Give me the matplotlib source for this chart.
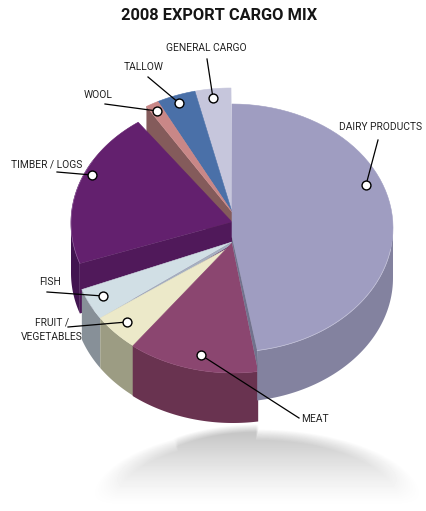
import numpy as np
import matplotlib
matplotlib.use("Agg")
import matplotlib.pyplot as plt
from matplotlib.patches import Polygon

plt.rcParams['font.family'] = ['Roboto', 'DejaVu Sans']

# share of exports, percent, clockwise from 12 o'clock
cargo = ['DAIRY PRODUCTS', 'MEAT', 'FRUIT /\nVEGETABLES', 'FISH', 'TIMBER / LOGS', 'WOOL', 'TALLOW', 'GENERAL CARGO']
share = [47.5, 13.2, 4.9, 4.1, 20.4, 1.3, 3.9, 3.6]
# there is a small hole in the ring before wool, same as the original graphic
hole_before = {'WOOL': 100 - sum(share)}

top_col = ['#9f9dc1', '#8b4670', '#ece9c9', '#d1dfe5', '#63206e', '#c98787', '#4a70a8', '#c6c6dc']
wall_col = ['#83829f', '#693350', '#9c9c83', '#879098', '#421550', None, None, None]
cut_col = ['#71728d', None, '#b9b79a', '#a6b0c0', '#50195a', '#845b5b', None, None]

# ellipse centre and apex of each slice in picture pixels (exploded by hand)
centre = [(232, 228), (233, 249), (234, 249), (234, 249), (232, 223), (231, 212), (231, 212), (231, 212)]
apex = [(232, 237), (232, 243), (232, 246), (232, 242), (232, 222), (232, 212), (232, 212), (232, 212)]
rx, ry, depth = 161, 124, 50

# dot, elbow, label anchor
callouts = {
    'DAIRY PRODUCTS': ((366, 185), (378, 140), (381, 127)),
    'MEAT': ((201, 355), (299, 418), (315, 419)),
    'FRUIT /\nVEGETABLES': ((127, 322), (68, 327), (52, 330)),
    'FISH': ((103, 296), (47, 292), (50, 282)),
    'TIMBER / LOGS': ((92, 175), (57, 172), (47, 164)),
    'WOOL': ((157, 111), (105, 104), (98, 95)),
    'TALLOW': ((179, 103), (148, 77), (144, 67)),
    'GENERAL CARGO': ((213, 98), (207, 59), (206, 48)),
}


def arc(i, a0, a1, dy=0):
    t = np.radians(np.linspace(a0, a1, 60))
    cx, cy = centre[i]
    return np.column_stack([cx + rx * np.sin(t), cy - ry * np.cos(t) + dy])


fig = plt.figure(figsize=(4.26, 5.11), dpi=100)
ax = fig.add_axes([0, 0, 1, 1])
ax.set_xlim(0, 426)
ax.set_ylim(511, 0)
ax.axis('off')

# soft shadow under the pie: a wide ellipse plus a raised part left of the meat edge
xx, yy = np.meshgrid(np.arange(426) + 0.5, np.arange(511) + 0.5)
d = np.sqrt(((xx - 257) / 168.0) ** 2 + ((yy - 505) / 76.0) ** 2)
mask = np.clip((1 - d) / 0.15, 0, 1)
d2 = np.sqrt(((xx - 258) / 150.0) ** 2 + ((yy - 505) / 81.0) ** 2)
mask2 = np.clip((1 - d2) / 0.1, 0, 1) * np.clip((259 - xx) / 3.0, 0, 1) * np.clip((xx - 170) / 8.0, 0, 1)
fade = np.maximum(mask, mask2) * np.clip((507 - yy) / 72.0, 0, 1) ** 1.3
shade = 1 - 0.22 * fade
ax.imshow(shade, cmap='gray', vmin=0, vmax=1, extent=(0, 426, 511, 0), zorder=0, aspect='auto')

# slice angles from the shares
starts, ends = [], []
a = 0.0
for name, v in zip(cargo, share):
    a += hole_before.get(name, 0) * 3.6
    starts.append(a)
    a += v * 3.6
    ends.append(a)

z = 1


def poly(pts, col, edge='none', lw=0.0):
    global z
    ax.add_patch(Polygon(pts, closed=True, facecolor=col, edgecolor=edge, linewidth=lw, zorder=z))
    z += 1


def draw_slice(i):
    a0, a1 = starts[i], ends[i]
    # outer wall, only the part facing us
    if wall_col[i] is not None:
        w0, w1 = max(a0, 90), min(a1, 270)
        if w1 > w0:
            poly(np.vstack([arc(i, w0, w1), arc(i, w0, w1, depth)[::-1]]), wall_col[i])
    # top face
    poly(np.vstack([[apex[i]], arc(i, a0, a1)]), top_col[i], edge=top_col[i], lw=0.4)


# wool cut face sits behind everything at the back
p = arc(5, starts[5], starts[5] + 0.01)[0]
poly([apex[5], p, (p[0], p[1] + depth), (apex[5][0], apex[5][1] + depth)], cut_col[5])
for i in [7, 6, 5]:
    draw_slice(i)

# timber, cut face along its lower edge
i = 4
draw_slice(i)
p = arc(i, starts[i], starts[i] + 0.01)[0]
poly([apex[i], p, (p[0], p[1] + depth), (apex[i][0], apex[i][1] + depth)], cut_col[i])
ax.plot(*arc(i, 251, 300).T, color='#8a5a96', lw=0.5, zorder=z)
z += 1

# fish and fruit, each with a thin edge strip on its clockwise-start side
for i, drop in [(3, 4), (2, 4)]:
    draw_slice(i)
    p = arc(i, starts[i], starts[i] + 0.01)[0]
    poly([apex[i], p, (p[0] + 1, p[1] + drop), (apex[i][0] + 1, apex[i][1] + 2)], cut_col[i])

# meat
draw_slice(1)

# dark strip next to dairy, then dairy
i = 0
p = arc(i, ends[i], ends[i] + 0.01)[0]
m = arc(1, starts[1], starts[1] + 0.01)[0]
draw_slice(0)
poly([apex[0], p, m, apex[1]], cut_col[0])
ax.plot(*arc(0, 100, ends[0]).T, color='#c4c3d8', lw=0.5, zorder=z)
z += 1

# call-outs
for name in cargo:
    dot, elbow, lab = callouts[name]
    ax.plot([dot[0], elbow[0]], [dot[1], elbow[1]], color='black', lw=0.9, zorder=50)
    ax.plot(dot[0], dot[1], 'o', ms=6.4, mfc='white', mec='black', mew=1.0, zorder=51)
    ax.text(lab[0], lab[1], name, ha='center', va='center', fontsize=7.4, color='#222222',
            linespacing=1.6, zorder=52)

ax.text(219, 16, '2008 EXPORT CARGO MIX', ha='center', va='center', fontsize=11.8,
        fontweight='bold', color='#151515')

fig.savefig('out.png', dpi=100)
